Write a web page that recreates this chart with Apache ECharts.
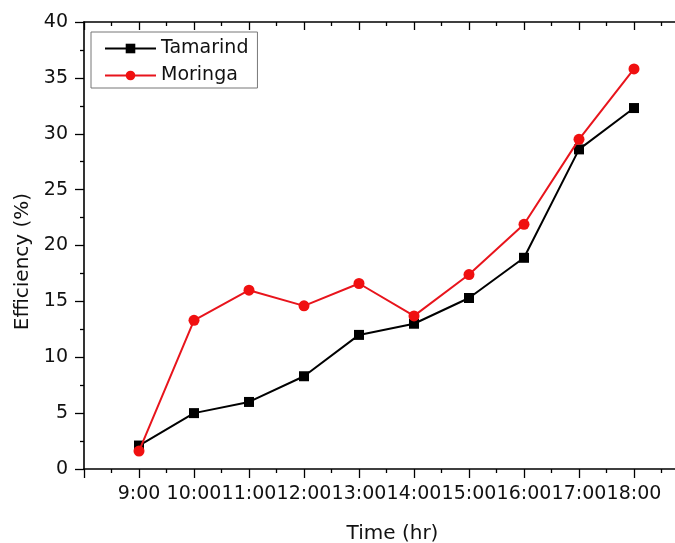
<!DOCTYPE html>
<html>
<head>
<meta charset="utf-8">
<script src="https://cdn.jsdelivr.net/npm/echarts@6/dist/echarts.min.js"></script>
<style>html,body{margin:0;padding:0;background:#fff}#c{width:675px;height:543px}</style>
</head>
<body>
<div id="c"></div>
<script>
const times = ['9:00','10:00','11:00','12:00','13:00','14:00','15:00','16:00','17:00','18:00'];
const tamarind = [2.1, 5.0, 6.0, 8.3, 12.0, 13.0, 15.3, 18.9, 28.6, 32.3];
const moringa = [1.6, 13.3, 16.0, 14.6, 16.6, 13.7, 17.4, 21.9, 29.5, 35.8];
const yTicks = [0, 5, 10, 15, 20, 25, 30, 35, 40];

const hours = times.map(t => parseInt(t, 10));
const font = 'DejaVu Sans';
const chart = echarts.init(document.getElementById('c'), null, {renderer: 'canvas'});

const xCommon = {
  type: 'value', min: 8, max: 19, interval: 1,
  splitLine: {show: false},
  axisLine: {show: true, onZero: false, lineStyle: {color: '#000', width: 1.6}},
  minorTick: {show: true, splitNumber: 2, length: 4, lineStyle: {color: '#000', width: 1.3}},
  minorSplitLine: {show: false}
};

chart.setOption({
  animation: false,
  backgroundColor: '#fff',
  grid: {left: 84, top: 22, width: 605, height: 447, containLabel: false, outerBoundsMode: 'none'},
  legend: {
    orient: 'vertical', left: 91, top: 32,
    padding: [7, 9, 3, 13], itemGap: 8,
    itemWidth: 51, itemHeight: 12,
    borderColor: '#777', borderWidth: 1,
    textStyle: {fontFamily: font, fontSize: 19, color: '#111', lineHeight: 19},
    data: ['Tamarind', 'Moringa']
  },
  xAxis: [
    Object.assign({}, xCommon, {
      position: 'bottom',
      name: 'Time (hr)', nameLocation: 'middle', nameGap: 55,
      nameTextStyle: {fontFamily: font, fontSize: 20, color: '#111', padding: [0, 0, 0, 12]},
      axisTick: {show: true, inside: false, length: 9, lineStyle: {color: '#000', width: 1.3}},
      axisLabel: {
        show: true, margin: 16, fontFamily: font, fontSize: 19, color: '#111', hideOverlap: false,
        formatter: v => { const i = hours.indexOf(v); return i >= 0 ? times[i] : ''; }
      }
    }),
    Object.assign({}, xCommon, {
      position: 'top',
      axisTick: {show: true, inside: true, length: 8, lineStyle: {color: '#000', width: 1.3}},
      minorTick: {show: true, splitNumber: 2, length: 4, lineStyle: {color: '#000', width: 1.3}},
      axisLabel: {show: false}
    })
  ],
  yAxis: {
    type: 'value', min: yTicks[0], max: yTicks[yTicks.length - 1], interval: yTicks[1] - yTicks[0],
    name: 'Efficiency (%)', nameLocation: 'middle', nameGap: 50,
    nameTextStyle: {fontFamily: font, fontSize: 20, color: '#111', padding: [0, 32, 0, 0]},
    splitLine: {show: false},
    axisLine: {show: true, lineStyle: {color: '#000', width: 1.6}},
    axisTick: {show: true, inside: false, length: 9, lineStyle: {color: '#000', width: 1.3}},
    minorTick: {show: true, splitNumber: 2, length: 4, lineStyle: {color: '#000', width: 1.3}},
    axisLabel: {margin: 16, fontFamily: font, fontSize: 19, color: '#111'}
  },
  series: [
    {
      name: 'Tamarind', type: 'line', xAxisIndex: 0,
      data: hours.map((h, i) => [h, tamarind[i]]),
      symbol: 'rect', symbolSize: 10,
      lineStyle: {color: '#000', width: 2},
      itemStyle: {color: '#000'},
      z: 2
    },
    {
      name: 'Moringa', type: 'line', xAxisIndex: 0,
      data: hours.map((h, i) => [h, moringa[i]]),
      symbol: 'circle', symbolSize: 11,
      lineStyle: {color: '#e8141c', width: 2},
      itemStyle: {color: '#f01010'},
      z: 3
    }
  ]
});
</script>
</body>
</html>
